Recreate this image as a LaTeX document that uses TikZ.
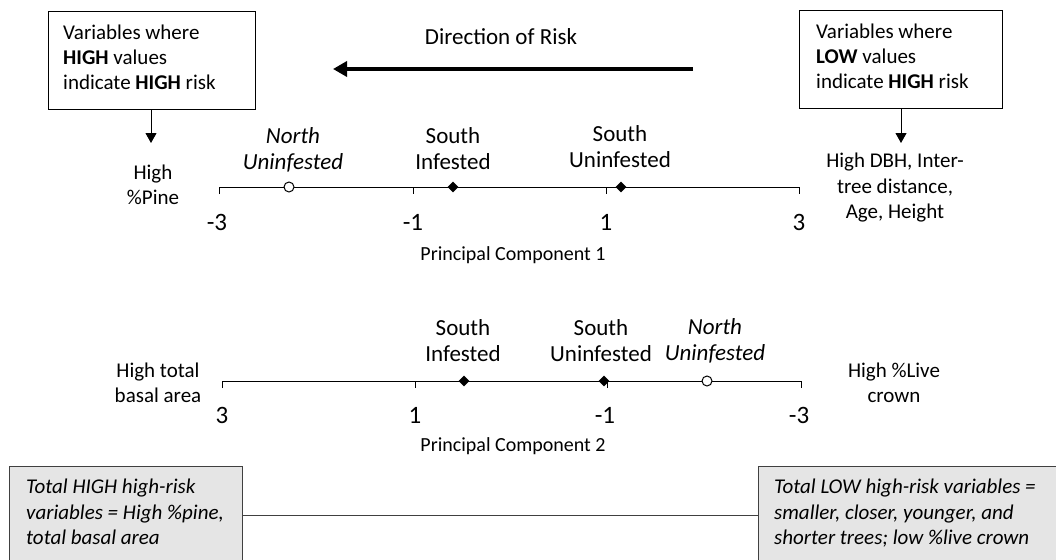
\documentclass[tikz,border=0pt]{standalone}
\usepackage{fontspec}
\setmainfont{Carlito}
\usetikzlibrary{arrows.meta,shapes.geometric}
\begin{document}
\begin{tikzpicture}[x=1pt,y=-1pt,
  txt/.style={font=\fontsize{21}{25}\selectfont, align=center, inner sep=0pt},
  lbl/.style={font=\fontsize{23}{26}\selectfont, align=center, inner sep=0pt},
  numlbl/.style={font=\fontsize{25}{28}\selectfont, inner sep=0pt},
  pclbl/.style={font=\fontsize{20}{24}\selectfont, inner sep=0pt},
  boxtxt/.style={font=\fontsize{21}{25}\selectfont, align=left, inner sep=0pt, anchor=north west},
  botboxtxt/.style={font=\fontsize{21}{25.5}\selectfont\itshape, align=left, inner sep=0pt, anchor=north west},
  frame/.style={line width=1pt},
  botbox/.style={draw=black!75, line width=1pt, fill=black!10},
  axis/.style={line width=1pt},
  downarrow/.style={line width=1pt, -{Triangle[length=10pt,width=11pt]}},
  riskarrow/.style={line width=4pt, -{Triangle[length=14pt,width=15pt]}},
  diam/.style={diamond, fill=black, minimum size=11pt, inner sep=0pt},
  circ/.style={circle, draw, line width=1pt, fill=white, minimum size=10pt, inner sep=0pt}
]
\useasboundingbox (0,0) rectangle (1056,559);
\clip (0,0) rectangle (1056,559);
\fill[white] (0,0) rectangle (1056,559);

% top boxes
\draw[frame] (48,12) rectangle (255,110);
\node[boxtxt] (lboxtxt) at (63,25) {Variables where\\\textbf{HIGH} values\\indicate \textbf{HIGH} risk};
\coordinate (lboxb) at (151,110);
\coordinate (lboxe) at (151,143);
\draw[downarrow] (lboxb) -- (lboxe);

\draw[frame] (799,11) rectangle (1002,109);
\node[boxtxt] (rboxtxt) at (816,24) {Variables where\\\textbf{LOW} values\\indicate \textbf{HIGH} risk};
\coordinate (rboxb) at (901,109);
\coordinate (rboxe) at (901,143);
\draw[downarrow] (rboxb) -- (rboxe);

% direction of risk
\node[lbl] (dir) at (501,37) {Direction of Risk};
\coordinate (riskR) at (693,69);
\coordinate (riskL) at (333,69);
\draw[riskarrow] (riskR) -- (riskL);

\node[txt] (hpine) at (153,185) {High\\\%Pine};
\node[font=\fontsize{21}{25.5}\selectfont, align=center, inner sep=0pt] (hdbh) at (895,188) {High DBH, Inter-\\tree distance,\\Age, Height};

% PC1 axis
\coordinate (p1a) at (219,187);
\coordinate (p1b) at (413,187);
\coordinate (p1c) at (606,187);
\coordinate (p1d) at (799,187);
\draw[axis] ([yshift=-7pt]p1a) -- (p1a) -- (p1d) -- ([yshift=-7pt]p1d);
\draw[axis] (p1b) -- ([yshift=-7pt]p1b);
\draw[axis] (p1c) -- ([yshift=-7pt]p1c);
\node[numlbl] (n1a) at (217,222) {-3};
\node[numlbl] (n1b) at (413,222) {-1};
\node[numlbl] (n1c) at (606,222) {1};
\node[numlbl] (n1d) at (799,222) {3};
\node[circ] (c1) at (289,187) {};
\node[diam] (d1a) at (453,187) {};
\node[diam] (d1b) at (621,187) {};
\node[lbl] (l1a) at (293,150) {\textit{North}\\\textit{Uninfested}};
\node[lbl] (l1b) at (453,149) {South\\Infested};
\node[lbl] (l1c) at (620,147) {South\\Uninfested};
\node[pclbl] (pc1) at (513,255) {Principal Component 1};

% PC2 axis
\coordinate (p2a) at (222,381);
\coordinate (p2b) at (415,381);
\coordinate (p2c) at (607,381);
\coordinate (p2d) at (801,381);
\draw[axis] ([yshift=-7pt]p2a) -- (p2a) -- (p2d) -- ([yshift=-7pt]p2d);
\draw[axis] (p2b) -- ([yshift=-7pt]p2b);
\draw[axis] (p2c) -- ([yshift=-7pt]p2c);
\node[numlbl] (n2a) at (222,415) {3};
\node[numlbl] (n2b) at (415,415) {1};
\node[numlbl] (n2c) at (605,415) {-1};
\node[numlbl] (n2d) at (799,415) {-3};
\node[circ] (c2) at (707,381) {};
\node[diam] (d2a) at (464,381) {};
\node[diam] (d2b) at (604,381) {};
\node[lbl] (l2a) at (463,341) {South\\Infested};
\node[lbl] (l2b) at (601,341) {South\\Uninfested};
\node[lbl] (l2c) at (715,341) {\textit{North}\\\textit{Uninfested}};
\node[txt] (hba) at (158,383) {High total\\basal area};
\node[txt] (hlc) at (894,383) {High \%Live\\crown};
\node[pclbl] (pc2) at (513,446) {Principal Component 2};

% bottom boxes
\node[botbox, minimum width=233pt, minimum height=140pt, anchor=north west, inner sep=0pt] (bl) at (9,466) {};
\node[botboxtxt] (bltxt) at (26,479) {Total HIGH high-risk\\variables = High \%pine,\\total basal area};
\node[botbox, minimum width=320pt, minimum height=140pt, anchor=north west, inner sep=0pt] (br) at (758,466) {};
\node[botboxtxt] (brtxt) at (774,479) {Total LOW high-risk variables =\\smaller, closer, younger, and\\shorter trees; low \%live crown};
\draw[line width=1pt, black!75] (bl.east |- 0,515) -- (br.west |- 0,515);
\end{tikzpicture}
\end{document}
